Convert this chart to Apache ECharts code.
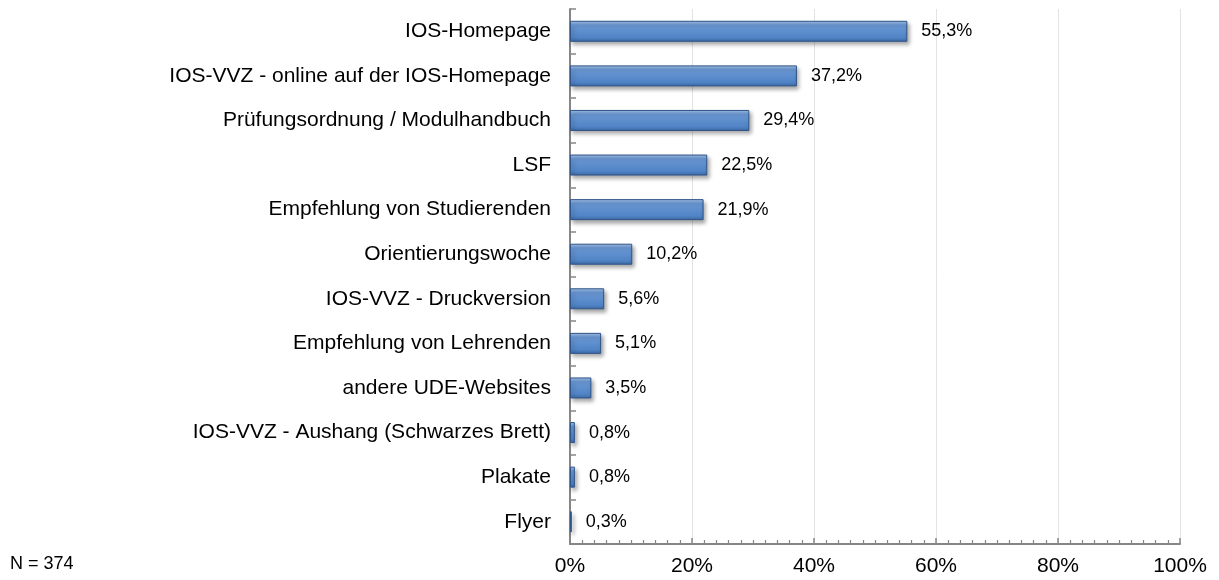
<!DOCTYPE html>
<html>
<head>
<meta charset="utf-8">
<script src="https://cdn.jsdelivr.net/npm/echarts@6/dist/echarts.min.js"></script>
<style>
html,body{margin:0;padding:0;background:#fff}
#chart{width:1219px;height:580px}
</style>
</head>
<body>
<div id="chart"></div>
<script>
// Kategorien von oben nach unten
let categories = ["IOS-Homepage", "IOS-VVZ - online auf der IOS-Homepage", "Prüfungsordnung / Modulhandbuch",
    "LSF", "Empfehlung von Studierenden", "Orientierungswoche", "IOS-VVZ - Druckversion",
    "Empfehlung von Lehrenden", "andere UDE-Websites", "IOS-VVZ - Aushang (Schwarzes Brett)", "Plakate", "Flyer"];
let values = [55.3, 37.2, 29.4, 22.5, 21.9, 10.2, 5.6, 5.1, 3.5, 0.8, 0.8, 0.3];
let xTicks = [0, 20, 40, 60, 80, 100];

let dom = document.getElementById("chart");
let myChart = echarts.init(dom);

let barColor = new echarts.graphic.LinearGradient(0, 0, 0, 1, [
    {offset: 0, color: '#a7c4ea'},
    {offset: 0.2, color: '#6b98d4'},
    {offset: 0.8, color: '#5084c6'},
    {offset: 1, color: '#3c68a3'}
]);

let options = {
    animation: false,
    textStyle: {fontFamily: 'Liberation Sans, Arial, sans-serif'},
    grid: {left: 570, right: 39, top: 9, bottom: 36, containLabel: false},
    graphic: [{
        type: 'text', left: 10, top: 555,
        style: {text: 'N = 374', fontSize: 18, fill: '#000', fontFamily: 'Liberation Sans, Arial, sans-serif'}
    }],
    xAxis: {
        type: 'value', min: 0, max: 100, interval: 20,
        axisLine: {show: true, lineStyle: {color: '#868686', width: 2}},
        axisTick: {show: true, inside: true, length: 6, lineStyle: {color: '#868686', width: 1.5}},
        minorTick: {show: true, splitNumber: 10, length: 4, lineStyle: {color: '#868686', width: 1.2}},
        splitLine: {show: true, lineStyle: {color: '#e3e3e3', width: 1}},
        axisLabel: {
            formatter: v => xTicks.indexOf(v) >= 0 ? v + '%' : '',
            fontSize: 21, color: '#000', margin: 12
        }
    },
    yAxis: {
        type: 'category', inverse: true, data: categories,
        axisLine: {show: true, lineStyle: {color: '#868686', width: 2}},
        axisTick: {show: true, inside: true, length: 6, lineStyle: {color: '#868686', width: 1.5}},
        axisLabel: {fontSize: 21, color: '#000', margin: 19}
    },
    series: [{
        type: 'bar',
        data: values,
        barWidth: 21,
        itemStyle: {
            color: barColor,
            borderColor: '#2f5588', borderWidth: 1,
            shadowColor: 'rgba(0,0,0,0.35)', shadowBlur: 4, shadowOffsetX: 2, shadowOffsetY: 3
        },
        label: {
            show: true, position: 'right', distance: 14,
            fontSize: 18, color: '#000',
            formatter: p => p.value.toFixed(1).replace('.', ',') + '%'
        }
    }]
};
myChart.setOption(options);
</script>
</body>
</html>
